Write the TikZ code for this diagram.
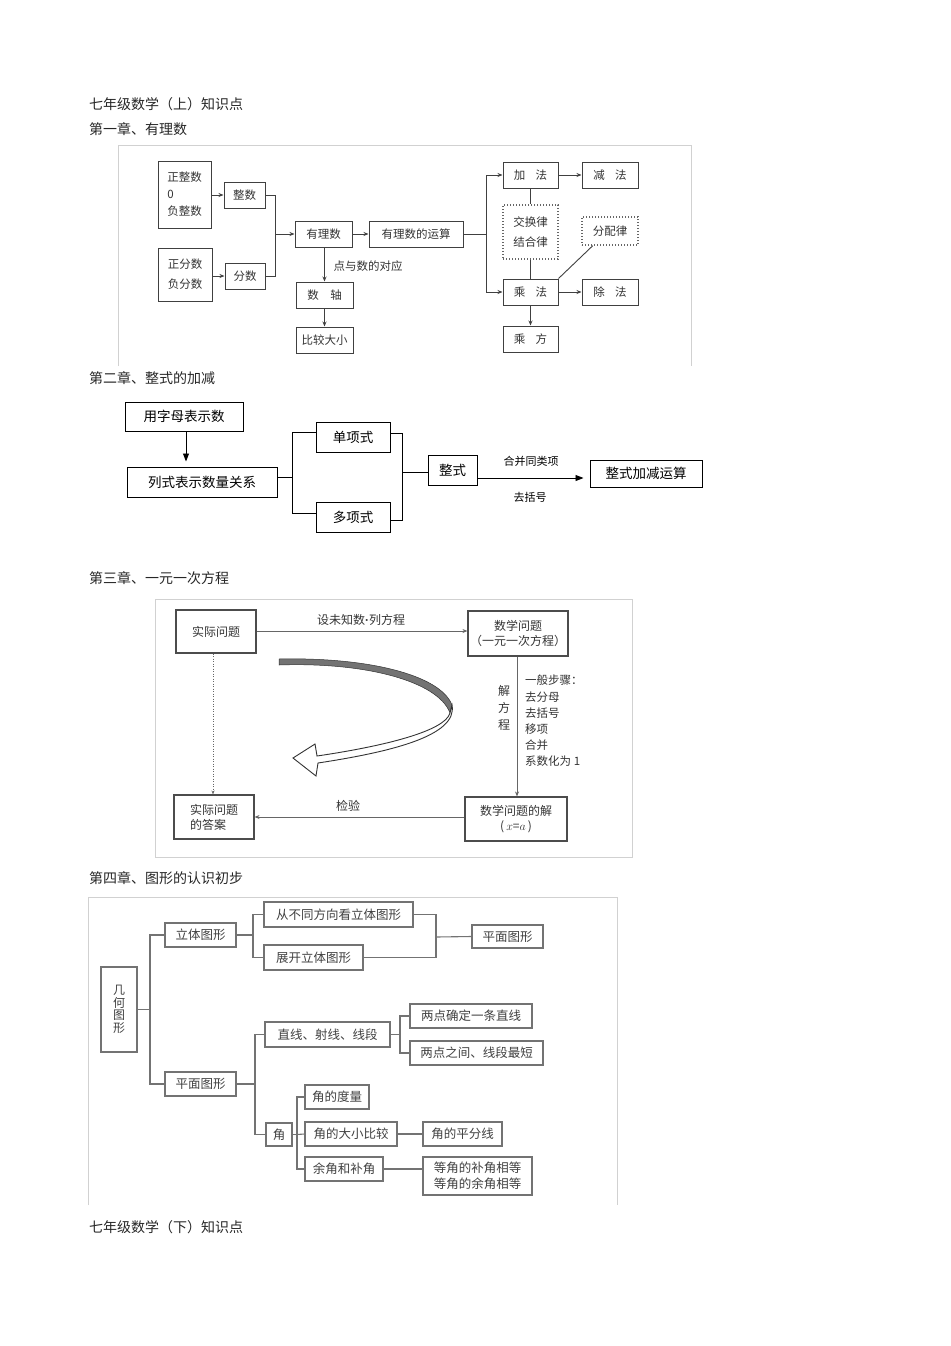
\documentclass[tikz,border=0pt]{standalone}
\usepackage{fontspec}
\setmainfont{Noto Sans CJK SC}
\newfontfamily\latinf{Liberation Sans}
\usetikzlibrary{arrows.meta,calc}
\begin{document}
\begin{tikzpicture}[x=1pt,y=-1pt,
  frame/.style={draw=black!18,line width=0.8pt},
  heading/.style={anchor=west,inner sep=0pt,font=\fontsize{14}{16}\selectfont,text=black!85},
  bx/.style={draw=black!75,line width=1pt,inner sep=0pt,align=center,text=black!80,font=\fontsize{11.5}{17}\selectfont},
  dotbx/.style={bx,draw=black!60,line width=1.3pt,dash pattern=on 1.3pt off 1.7pt},
  ln/.style={draw=black!75,line width=0.9pt},
  arr/.style={ln,-{Stealth[length=5pt,width=4pt]}},
  lbl/.style={inner sep=0pt,text=black!80,font=\fontsize{11.5}{14}\selectfont},
  bxb/.style={draw=black,line width=1pt,inner sep=0pt,align=center,font=\fontsize{13.5}{16}\selectfont},
  lnb/.style={draw=black,line width=0.9pt},
  arrb/.style={lnb,-{Triangle[length=8pt,width=6pt]}},
  lblb/.style={inner sep=0pt,font=\fontsize{11}{13}\selectfont},
  bxc/.style={draw=black!70,line width=1.1pt,inner sep=0pt,align=center,text=black!80,font=\fontsize{12}{15}\selectfont},
  lnc/.style={draw=black!60,line width=0.8pt},
  arrc/.style={lnc,-{Stealth[length=5pt,width=4pt]}},
  bxd/.style={draw=black!55,line width=1.2pt,inner sep=0pt,align=center,text=black!75,font=\fontsize{12.5}{15}\selectfont},
  lnd/.style={draw=black!55,line width=1.1pt}
]
\path[use as bounding box] (0,0) rectangle (950,1346);

% headings
\node[heading] (h0) at (89,104) {七年级数学（上）知识点};
\node[heading] (h1) at (89,129) {第一章、有理数};
\node[heading] (h2) at (89,378) {第二章、整式的加减};
\node[heading] (h3) at (89,578) {第三章、一元一次方程};
\node[heading] (h4) at (89,878) {第四章、图形的认识初步};
\node[heading] (h5) at (89,1227) {七年级数学（下）知识点};

% ================= Chapter 1 =================
\draw[frame] (118,366) -- (118,145) -- (691,145) -- (691,366);
\node[bx,minimum width=53pt,minimum height=67pt,align=left] (a1) at (184.5,194.5) {正整数\\0\\负整数};
\node[bx,minimum width=41pt,minimum height=26pt] (a2) at (244.5,195) {整数};
\node[bx,minimum width=54pt,minimum height=53pt,align=left,font=\fontsize{11.5}{20}\selectfont] (a3) at (185,274.5) {正分数\\负分数};
\node[bx,minimum width=40pt,minimum height=26pt] (a4) at (245,276) {分数};
\node[bx,minimum width=57pt,minimum height=26pt] (a5) at (323.5,234) {有理数};
\node[bx,minimum width=94pt,minimum height=26pt] (a6) at (416,234) {有理数的运算};
\node[bx,minimum width=57pt,minimum height=26pt] (a7) at (324.5,295) {数\hspace{1em}轴};
\node[bx,minimum width=57pt,minimum height=26pt] (a8) at (324.5,340) {比较大小};
\node[lbl] (la) at (368,266) {点与数的对应};

\node[bx,minimum width=55pt,minimum height=26pt] (b1) at (530.5,175) {加\hspace{0.9em}法};
\node[bx,minimum width=56pt,minimum height=26pt] (b2) at (610,175) {减\hspace{0.9em}法};
\node[dotbx,minimum width=55pt,minimum height=54pt,font=\fontsize{11.5}{20}\selectfont] (b3) at (530.5,232) {交换律\\结合律};
\node[dotbx,minimum width=56pt,minimum height=28pt] (b4) at (610,231) {分配律};
\node[bx,minimum width=55pt,minimum height=26pt] (b5) at (530.5,292) {乘\hspace{0.9em}法};
\node[bx,minimum width=56pt,minimum height=26pt] (b6) at (610,292) {除\hspace{0.9em}法};
\node[bx,minimum width=55pt,minimum height=26pt] (b7) at (530.5,339) {乘\hspace{0.9em}方};

\coordinate (j1) at (275,234);
\coordinate (j2) at (486,234);
\draw[arr] (a1.east |- a2.west) -- (a2.west);
\draw[arr] (a3.east |- a4.west) -- (a4.west);
\draw[ln] (a2.east) -| (j1);
\draw[ln] (a4.east) -| (j1);
\draw[arr] (j1) -- (a5.west);
\draw[arr] (a5.east) -- (a6.west);
\draw[arr] (a5.south -| a7.north) -- (a7.north);
\draw[arr] (a7.south) -- (a8.north);
\draw[ln] (a6.east) -- (j2);
\draw[arr] (j2) |- (b1.west);
\draw[arr] (j2) |- (b5.west);
\draw[arr] (b1.east) -- (b2.west);
\draw[arr] (b5.east) -- (b6.west);
\draw[arr] (b5.south) -- (b7.north);
\draw[ln] (b1.south) -- (b3.north);
\draw[ln] (b3.south) -- (b5.north);
\draw[ln] (b5.north east) -- ($(b4.south west)!0.2!(b4.south east)$);

% ================= Chapter 2 =================
\node[bxb,minimum width=118pt,minimum height=29pt] (c1) at (184,416.5) {用字母表示数};
\node[bxb,minimum width=150pt,minimum height=30pt] (c2) at (202,482) {列式表示数量关系};
\node[bxb,minimum width=74pt,minimum height=30pt] (c3) at (353,437) {单项式};
\node[bxb,minimum width=74pt,minimum height=30pt] (c4) at (353,517) {多项式};
\node[bxb,minimum width=49pt,minimum height=30pt] (c5) at (452.5,470) {整式};
\node[bxb,minimum width=112pt,minimum height=27pt] (c6) at (646,473.5) {整式加减运算};
\node[lblb] (lc1) at (531,461) {合并同类项};
\node[lblb] (lc2) at (530,497) {去括号};

\coordinate (c1s) at ($(c1.south)+(2,0)$);
\coordinate (c2n) at (c1s |- c2.north);
\draw[arrb,shorten >=5pt] (c1s) -- (c2n);
\coordinate (j3) at (292,477);
\coordinate (j3t) at (292,432);
\coordinate (j3b) at (292,513);
\draw[lnb] (c2.east |- j3) -- (j3);
\draw[lnb] (j3t -| c3.west) -- (j3t) -- (j3b) -- (j3b -| c4.west);
\coordinate (j4t) at (402,433);
\coordinate (j4b) at (402,520);
\coordinate (j4) at (402,472);
\draw[lnb] (j4t -| c3.east) -- (j4t) -- (j4b) -- (j4b -| c4.east);
\draw[lnb] (j4) -- (j4 -| c5.west);
\coordinate (c5e) at ($(c5.east)+(0,8)$);
\coordinate (c6w) at (c5e -| c6.west);
\draw[arrb,shorten >=6pt] (c5e) -- (c6w);

% ================= Chapter 3 =================
\draw[frame] (155,599) rectangle (632,857);
\node[bxc,minimum width=80pt,minimum height=43pt] (d1) at (216,631.5) {实际问题};
\node[bxc,minimum width=100pt,minimum height=45pt] (d2) at (518,633.5) {数学问题\\（一元一次方程）};
\node[bxc,minimum width=102pt,minimum height=44pt] (d3) at (516,819) {数学问题的解\\(\,$x$=$a$\,)};
\node[bxc,minimum width=80pt,minimum height=44pt,align=left] (d4) at (214,817) {实际问题\\的答案};
\node[lbl,font=\fontsize{12}{14}\selectfont] (ld1) at (361,620) {设未知数{\latinf\bfseries ·}列方程};
\node[lbl,font=\fontsize{12}{14}\selectfont] (ld2) at (348,806) {检验};
\node[lbl,align=center,font=\fontsize{12}{17}\selectfont] (ld3) at (504,708) {解\\方\\程};
\node[lbl,anchor=north west,align=left,font=\fontsize{11.5}{16.2}\selectfont] (ld4) at (525,675) {一般步骤：\\去分母\\去括号\\移项\\合并\\系数化为 1};

\draw[arrc] (d1.east |- 0,631) -- (d2.west |- 0,631);
\draw[arrc] (d2.south -| 517,0) -- (d3.north -| 517,0);
\draw[arrc] (d3.west |- 0,817) -- (d4.east |- 0,817);
\draw[lnc,dash pattern=on 1.2pt off 1.3pt,-{Stealth[length=4pt,width=3pt]}] (d1.south -| 213,0) -- (d4.north -| 213,0);

% curved hollow arrow
\filldraw[fill=black!55,draw=black!80,line width=0.5pt]
  (279,659) .. controls (365,657) and (440,674) .. (452,705)
  -- (450,713) .. controls (438,681) and (365,662) .. (279,665) -- cycle;
\filldraw[fill=white,draw=black!80,line width=0.9pt]
  (452,705) .. controls (458,736) and (390,752) .. (318,763)
  -- (316,776) -- (293,758) -- (315,744) -- (317,756)
  .. controls (385,746) and (445,731) .. (450,713) -- cycle;

% ================= Chapter 4 =================
\draw[frame] (88,1205) -- (88,897) -- (617,897) -- (617,1205);
\node[bxd,minimum width=36pt,minimum height=85pt,font=\fontsize{12}{12.5}\selectfont] (e1) at (119,1009.5) {几\\何\\图\\形};
\node[bxd,minimum width=71pt,minimum height=24pt] (e2) at (200.5,935) {立体图形};
\node[bxd,minimum width=71pt,minimum height=24pt] (e3) at (200.5,1084) {平面图形};
\node[bxd,minimum width=149pt,minimum height=25pt] (e4) at (338.5,914.5) {从不同方向看立体图形};
\node[bxd,minimum width=99pt,minimum height=25pt] (e5) at (313.5,957.5) {展开立体图形};
\node[bxd,minimum width=71pt,minimum height=23pt] (e6) at (507.5,936.5) {平面图形};
\node[bxd,minimum width=125pt,minimum height=25pt] (e7) at (327.5,1034.5) {直线、射线、线段};
\node[bxd,minimum width=122pt,minimum height=24pt] (e8) at (471,1016) {两点确定一条直线};
\node[bxd,minimum width=133pt,minimum height=24pt] (e9) at (476.5,1053) {两点之间、线段最短};
\node[bxd,minimum width=26pt,minimum height=23pt] (e10) at (279,1134.5) {角};
\node[bxd,minimum width=64pt,minimum height=24pt] (e11) at (337,1097) {角的度量};
\node[bxd,minimum width=92pt,minimum height=24pt] (e12) at (351,1134) {角的大小比较};
\node[bxd,minimum width=78pt,minimum height=24pt] (e13) at (344,1169) {余角和补角};
\node[bxd,minimum width=79pt,minimum height=24pt] (e14) at (462.5,1134) {角的平分线};
\node[bxd,minimum width=109pt,minimum height=38pt,font=\fontsize{12.5}{16}\selectfont] (e15) at (477.5,1176) {等角的补角相等\\等角的余角相等};

\coordinate (k1) at (150,1009.5);
\coordinate (k2) at (253,935);
\coordinate (k3) at (436,937);
\coordinate (k4) at (255,1084);
\coordinate (k5) at (400,1034.5);
\coordinate (k6) at (297,1134.5);
\draw[lnd] (e1.east) -- (k1);
\draw[lnd] (e2.west) -| (k1);
\draw[lnd] (e3.west) -| (k1);
\draw[lnd] (e2.east) -- (k2);
\draw[lnd] (e4.west) -| (k2);
\draw[lnd] (e5.west) -| (k2);
\draw[lnd] (e4.east) -| (k3);
\draw[lnd] (e5.east) -| (k3);
\draw[lnd] (k3) -- (e6.west);
\draw[lnd] (e3.east) -- (k4);
\draw[lnd] (e7.west) -| (k4);
\draw[lnd] (e10.west) -| (k4);
\draw[lnd] (e7.east) -- (k5);
\draw[lnd] (e8.west) -| (k5);
\draw[lnd] (e9.west) -| (k5);
\draw[lnd] (e10.east) -- (k6);
\draw[lnd] (e11.west) -| (k6);
\draw[lnd] (e13.west) -| (k6);
\draw[lnd] (k6) -- (e12.west);
\draw[lnd] (e12.east) -- (e14.west);
\draw[lnd] (e13.east) -- (e13.east -| e15.west);
\end{tikzpicture}
\end{document}
